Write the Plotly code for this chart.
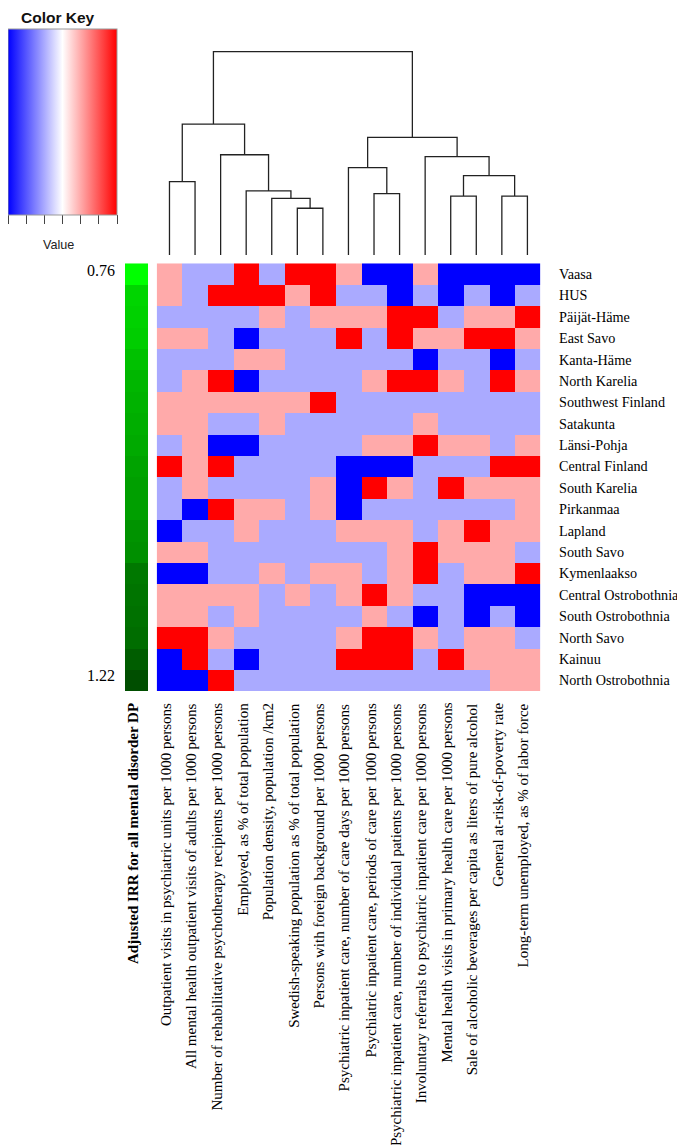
import plotly.graph_objects as go

# ---------------- data ----------------
regions = ["Vaasa", "HUS", "Päijät-Häme", "East Savo", "Kanta-Häme", "North Karelia",
           "Southwest Finland", "Satakunta", "Länsi-Pohja", "Central Finland", "South Karelia",
           "Pirkanmaa", "Lapland", "South Savo", "Kymenlaakso", "Central Ostrobothnia",
           "South Ostrobothnia", "North Savo", "Kainuu", "North Ostrobothnia"]

indicators = [
    "Outpatient visits in psychiatric units per 1000 persons",
    "All mental health outpatient visits of adults per 1000 persons",
    "Number of rehabilitative psychotherapy recipients per 1000 persons",
    "Employed, as % of total population",
    "Population density, population /km2",
    "Swedish-speaking population as % of total population",
    "Persons with foreign background per 1000 persons",
    "Psychiatric inpatient care, number of care days per 1000 persons",
    "Psychiatric inpatient care, periods of care per 1000 persons",
    "Psychiatric inpatient care, number of individual patients per 1000 persons",
    "Involuntary referrals to psychiatric inpatient care per 1000 persons",
    "Mental health visits in primary health care per 1000 persons",
    "Sale of alcoholic beverages per capita as liters of pure alcohol",
    "General at-risk-of-poverty rate",
    "Long-term unemployed, as % of labor force",
]

# quartile class (1 = lowest ... 4 = highest) per region (rows) and indicator (columns)
quartiles = [
    [3, 2, 2, 4, 2, 4, 4, 3, 1, 1, 3, 1, 1, 1, 1],  # Vaasa
    [3, 2, 4, 4, 4, 3, 4, 2, 2, 1, 2, 1, 2, 1, 2],  # HUS
    [2, 2, 2, 2, 3, 2, 3, 3, 3, 4, 4, 2, 3, 3, 4],  # Päijät-Häme
    [3, 3, 2, 1, 2, 2, 2, 4, 2, 4, 3, 3, 4, 4, 3],  # East Savo
    [2, 2, 2, 3, 3, 2, 2, 2, 2, 2, 1, 2, 2, 1, 2],  # Kanta-Häme
    [2, 3, 4, 1, 2, 2, 2, 2, 3, 4, 4, 3, 2, 4, 3],  # North Karelia
    [3, 3, 3, 3, 3, 3, 4, 2, 2, 2, 2, 2, 2, 2, 2],  # Southwest Finland
    [3, 3, 2, 2, 3, 2, 2, 2, 2, 2, 3, 2, 2, 2, 2],  # Satakunta
    [2, 3, 1, 1, 2, 2, 2, 2, 3, 3, 4, 3, 3, 2, 3],  # Länsi-Pohja
    [4, 3, 4, 2, 2, 2, 2, 1, 1, 1, 2, 2, 2, 4, 4],  # Central Finland
    [2, 3, 2, 2, 2, 2, 3, 1, 4, 3, 2, 4, 3, 3, 3],  # South Karelia
    [2, 1, 4, 3, 3, 2, 3, 1, 2, 2, 2, 2, 2, 2, 3],  # Pirkanmaa
    [1, 2, 2, 3, 2, 2, 2, 3, 3, 3, 2, 3, 4, 3, 3],  # Lapland
    [3, 3, 2, 2, 2, 2, 2, 2, 2, 3, 4, 3, 3, 3, 2],  # South Savo
    [1, 1, 2, 2, 3, 2, 3, 3, 2, 3, 4, 2, 3, 3, 4],  # Kymenlaakso
    [3, 3, 3, 3, 2, 3, 2, 3, 4, 3, 2, 2, 1, 1, 1],  # Central Ostrobothnia
    [3, 3, 2, 3, 2, 2, 2, 2, 3, 2, 1, 2, 1, 2, 1],  # South Ostrobothnia
    [4, 4, 3, 2, 2, 2, 2, 3, 4, 4, 3, 2, 3, 3, 2],  # North Savo
    [1, 4, 2, 1, 2, 2, 2, 4, 4, 4, 2, 4, 3, 3, 3],  # Kainuu
    [1, 1, 4, 2, 2, 2, 2, 2, 2, 2, 2, 2, 2, 3, 3],  # North Ostrobothnia
]

# adjusted IRR for all mental disorder DP (row side colours)
irr = [0.76, 0.87, 0.88, 0.89, 0.92, 0.95, 0.96, 0.97, 0.98, 1.00,
       1.01, 1.01, 1.04, 1.05, 1.11, 1.12, 1.13, 1.14, 1.18, 1.22]
irr_labels = ["0.76", "1.22"]

# column dendrogram: (child a, child b, merge height); leaves 0..14, clusters 15..
merges = [
    (0, 1, 0.361),
    (5, 6, 0.230),
    (4, 16, 0.279),
    (3, 17, 0.315),
    (2, 18, 0.493),
    (15, 19, 0.644),
    (8, 9, 0.302),
    (7, 21, 0.430),
    (11, 12, 0.290),
    (13, 14, 0.290),
    (23, 24, 0.390),
    (10, 25, 0.484),
    (22, 26, 0.579),
    (20, 27, 1.000),
]

key_ticks = [1, 1.5, 2, 2.5, 3, 3.5, 4]

# ---------------- layout helpers ----------------
# the page body keeps an 8 px margin, so the figure is placed at (8, 8)
OX, OY = 8, 8
W, H = 685 - OX, 1145 - OY
def fx(px):
    return (px - OX) / W
def fy(py):
    return 1 - (py - OY) / H

SERIF = "Liberation Serif, Times New Roman, serif"
SANS = "Liberation Sans, Arial, sans-serif"

bwr = [[0.0, "rgb(0,0,255)"], [0.5, "rgb(255,255,255)"], [1.0, "rgb(255,0,0)"]]
greens = [[0.0, "rgb(0,255,0)"], [1.0, "rgb(0,78,0)"]]

nr, nc = len(regions), len(indicators)

fig = go.Figure()

key_left, key_right = 8.0, 117.0
fig.add_trace(go.Heatmap(
    z=quartiles, x=list(range(nc)), y=list(range(nr)),
    colorscale=bwr, zmin=1, zmax=4, xaxis="x", yaxis="y",
    hoverinfo="skip",
    showscale=True,
    colorbar=dict(
        orientation="h", x=fx((key_left + key_right) / 2), xanchor="center",
        y=fy(29.3), yanchor="top",
        len=key_right - key_left, lenmode="pixels", thickness=186, thicknessmode="pixels",
        xpad=0, ypad=0, outlinewidth=1, outlinecolor="#999999",
        tickmode="array", tickvals=key_ticks, ticks="outside", ticklen=9,
        tickwidth=1, tickcolor="#444444", showticklabels=False,
    ),
))

fig.add_trace(go.Heatmap(
    z=[[v] for v in irr], x=[0], y=list(range(nr)),
    colorscale=greens, zmin=min(irr), zmax=max(irr),
    xaxis="x2", yaxis="y", showscale=False, hoverinfo="skip",
))

# dendrogram from linkage
pos = {i: (float(i), 0.0) for i in range(nc)}
dx, dy = [], []
for k, (a, b, h) in enumerate(merges):
    xa, ha = pos[a]
    xb, hb = pos[b]
    dx += [xa, xa, xb, xb, None]
    dy += [ha, h, h, hb, None]
    pos[nc + k] = ((xa + xb) / 2, h)

fig.add_trace(go.Scatter(
    x=dx, y=dy, mode="lines", line=dict(color="#222222", width=1.3),
    xaxis="x3", yaxis="y3", hoverinfo="skip", showlegend=False,
))

hid = dict(visible=False, showgrid=False, zeroline=False, fixedrange=True)
fig.update_layout(
    width=W, height=H, margin=dict(l=0, r=0, t=0, b=0),
    paper_bgcolor="white", plot_bgcolor="white", showlegend=False,
    xaxis=dict(domain=[fx(156.7), fx(540.2)], range=[-0.5, nc - 0.5], anchor="y", **hid),
    yaxis=dict(domain=[fy(691), fy(263.3)], range=[nr - 0.5, -0.5], anchor="x", **hid),
    xaxis2=dict(domain=[fx(125), fx(148.3)], range=[-0.5, 0.5], anchor="y", **hid),
    xaxis3=dict(domain=[fx(156.7), fx(540.2)], range=[-0.5, nc - 0.5], anchor="y3", **hid),
    yaxis3=dict(domain=[fy(255), fy(45.6)], range=[0, 1.03], anchor="x3", **hid),
)

ann = []
for i, r in enumerate(regions):
    ann.append(dict(text=r, xref="paper", x=fx(557.5), xanchor="left", yref="y", y=i,
                    yanchor="middle", showarrow=False, borderpad=0,
                    font=dict(family=SERIF, size=14.2, color="black")))
for j, c in enumerate(indicators):
    ann.append(dict(text=c, xref="x", x=j, xanchor="center", xshift=-4, yref="paper",
                    y=fy(701), yanchor="top", textangle=-90, showarrow=False,
                    font=dict(family=SERIF, size=15, color="black")))
ann.append(dict(text="<b>Adjusted IRR for all mental disorder DP</b>", xref="paper", x=fx(132.5),
                xanchor="center", yref="paper", y=fy(701), yanchor="top", textangle=-90,
                showarrow=False, font=dict(family=SERIF, size=15, color="black")))
ann.append(dict(text=irr_labels[0], xref="paper", x=fx(117), xanchor="right", yref="y", y=0,
                yshift=3, showarrow=False, font=dict(family=SERIF, size=16, color="black")))
ann.append(dict(text=irr_labels[1], xref="paper", x=fx(117), xanchor="right", yref="y", y=nr - 1,
                yshift=5, showarrow=False, font=dict(family=SERIF, size=16, color="black")))
ann.append(dict(text="<b>Color Key</b>", xref="paper", x=fx(58), xanchor="center", yref="paper",
                y=1.0, yanchor="top", showarrow=False, borderpad=0,
                font=dict(family=SANS, size=15.5, color="#111")))
ann.append(dict(text="Value", xref="paper", x=fx(58), xanchor="center", yref="paper",
                y=fy(245), yanchor="middle", showarrow=False,
                font=dict(family=SANS, size=12.6, color="#222")))
fig.update_layout(annotations=ann)

fig.write_html("out.html")
